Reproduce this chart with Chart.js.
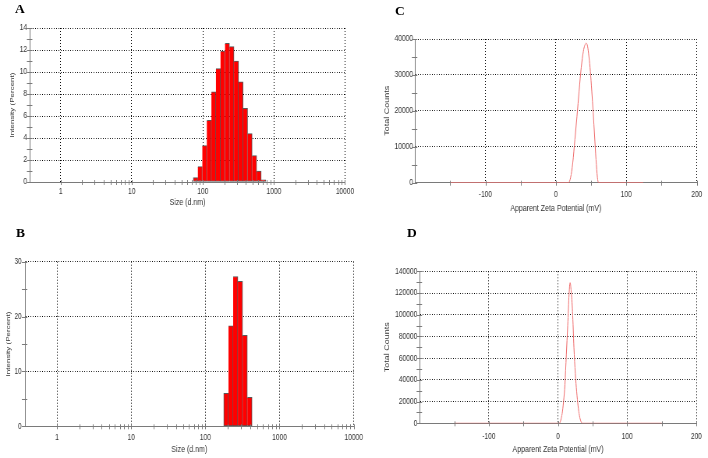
<!DOCTYPE html>
<html>
<head>
<meta charset="utf-8">
<script src="https://cdn.jsdelivr.net/npm/chart.js@4.4.0/dist/chart.umd.min.js"></script>
<style>
  html, body { margin: 0; padding: 0; background: #fff; }
  #wrap { position: relative; width: 708px; height: 458px; overflow: hidden; }
  /* the instrument export is squeezed horizontally, so draw wide and squeeze */
  #wrap canvas { position: absolute; left: 0; top: 0; transform-origin: 0 0; transform: scaleX(0.779736); }
  .lbl { position: absolute; font: bold 13.5px 'Liberation Serif', 'Times New Roman', serif; line-height: 1; color: #000; }
</style>
</head>
<body>
<div id="wrap">
  <canvas id="chartA" width="908" height="458"></canvas>
  <canvas id="chartB" width="908" height="458"></canvas>
  <canvas id="chartC" width="908" height="458"></canvas>
  <canvas id="chartD" width="908" height="458"></canvas>
  <div class="lbl" style="left:15px;top:2px">A</div>
  <div class="lbl" style="left:16px;top:226px">B</div>
  <div class="lbl" style="left:395px;top:4px">C</div>
  <div class="lbl" style="left:407px;top:226px">D</div>
</div>
<script>
// size classes (d.nm) and intensity (%)
const sizesA = [78.82, 91.28, 105.7, 122.4, 141.8, 164.2, 190.1, 220.2, 255.0, 295.3, 342.0, 396.1, 458.7, 531.2, 615.1, 712.4];
const intensityA = [0.4, 1.4, 3.3, 5.6, 8.2, 10.3, 11.9, 12.6, 12.3, 11.0, 9.1, 6.7, 4.4, 2.4, 1.0, 0.2];
const sizesB = [190.1, 220.2, 255.0, 295.3, 342.0, 396.1];
const intensityB = [6.0, 18.3, 27.3, 26.4, 16.6, 5.3];

// apparent zeta potential (mV) vs total counts
const zetaC = [-150, 18, 21, 24, 27, 30, 33, 36, 39, 41, 43, 45, 47, 49, 51, 53, 55, 57, 59, 60.5, 124];
const countsC = [0, 0, 1500, 5500, 12000, 18500, 25500, 32000, 36500, 38200, 38800, 38000, 35000, 31000, 25500, 19500, 13000, 6500, 1500, 0, 0];
const zetaD = [-150, 2, 4, 6, 8, 10, 12, 14, 16, 17.5, 19, 21, 23, 25, 27, 29, 31, 33, 35, 150];
const countsD = [0, 0, 3000, 9000, 20000, 36000, 63000, 90000, 119000, 129500, 122000, 103000, 70000, 46000, 29000, 16000, 7000, 2000, 0, 0];

// tick values
const sizeTicks = [1, 10, 100, 1000, 10000];
const zetaTicks = [-100, 0, 100, 200];
const zetaMinor = [-150, -50, 50, 150];
const ticksA = [0, 2, 4, 6, 8, 10, 12, 14];
const minorA = [1, 3, 5, 7, 9, 11, 13];
const ticksB = [0, 10, 20, 30];
const minorB = [5, 15, 25];
const ticksC = [0, 10000, 20000, 30000, 40000];
const minorC = [5000, 15000, 25000, 35000];
const ticksD = [0, 20000, 40000, 60000, 80000, 100000, 120000, 140000];
const minorD = [10000, 30000, 50000, 70000, 90000, 110000, 130000];

const sizeMinor = [];
[1, 10, 100, 1000].forEach(d => { for (let k = 2; k <= 9; k++) sizeMinor.push(d * k); });

const SQ = 708 / 908;      // horizontal squeeze (matches the css transform)
const CW = 908;            // canvas width before squeeze
const SANS = "'Liberation Sans', Arial, sans-serif";
const TEXT = '#333';
const TICK_FONT = 8.5;
const XTITLE_FONT = 9;

// small gray tick marks crossing the axes (major + minor)
const tickMarks = {
    id: 'tickMarks',
    afterDraw(chart, args, opts) {
        const { ctx, chartArea: a, scales: { x, y } } = chart;
        ctx.save();
        ctx.strokeStyle = '#7a7a7a';
        ctx.lineWidth = 1;
        ctx.beginPath();
        opts.x.forEach(v => {
            const px = Math.round(x.getPixelForValue(v)) + 0.5;
            ctx.moveTo(px, a.bottom - 2);
            ctx.lineTo(px, a.bottom + 3);
        });
        opts.y.forEach(v => {
            const py = Math.round(y.getPixelForValue(v)) + 0.5;
            ctx.moveTo(a.left - 4, py);
            ctx.lineTo(a.left + 3, py);
        });
        ctx.stroke();
        ctx.restore();
    }
};

// p.box = plot area on screen (left, right, top, bottom)
function panel(p) {
    const b = p.box;
    const xH = p.xTitleY - b.b + XTITLE_FONT * 0.6 + 0.5;
    const pad = {
        left: (b.l - p.yW) / SQ,
        right: CW - b.r / SQ,
        top: b.t,
        bottom: 458 - b.b - xH
    };
    const dataPts = p.xs.map((x, i) => ({ x: x, y: p.ys[i] }));
    const dataset = p.type === 'bar' ? {
        data: dataPts,
        backgroundColor: '#ff0000',
        borderColor: 'rgba(70,70,70,0.9)',
        borderWidth: 1,
        borderSkipped: c => c.dataIndex === 0 ? false : 'left',
        barPercentage: 1,
        categoryPercentage: 1
    } : {
        data: dataPts,
        borderColor: '#ee6a6a',
        borderWidth: 1,
        pointRadius: 0,
        fill: false,
        tension: 0.4,
        cubicInterpolationMode: 'monotone'
    };
    return {
        type: p.type,
        data: { datasets: [dataset] },
        options: {
            responsive: false,
            animation: false,
            devicePixelRatio: 1,
            layout: { padding: pad },
            plugins: {
                legend: { display: false },
                tooltip: { enabled: false },
                tickMarks: { x: p.xMarks, y: p.yMarks }
            },
            scales: {
                x: {
                    type: p.xType,
                    min: p.xMin,
                    max: p.xMax,
                    offset: false,
                    afterBuildTicks: s => { s.ticks = p.xTicks.map(v => ({ value: v })); },
                    afterFit: s => { s.height = xH; },
                    grid: { color: '#000', lineWidth: 1, drawTicks: false, offset: false },
                    border: { color: '#7a7a7a', width: 1, dash: [1, 2] },
                    ticks: {
                        autoSkip: false, maxRotation: 0,
                        padding: p.xTickY - b.b - TICK_FONT * 0.6,
                        color: TEXT, font: { family: SANS, size: TICK_FONT },
                        callback: v => String(v)
                    },
                    title: {
                        display: true, text: p.xTitle, color: TEXT,
                        font: { family: SANS, size: XTITLE_FONT },
                        padding: { top: 0, bottom: 0.5 }
                    }
                },
                y: {
                    type: 'linear',
                    min: p.yTicks[0],
                    max: p.yTicks[p.yTicks.length - 1],
                    afterBuildTicks: s => { s.ticks = p.yTicks.map(v => ({ value: v })); },
                    afterFit: s => { s.width = p.yW / SQ; },
                    grid: {
                        color: c => (c.tick && c.tick.value === 0) ? 'rgba(0,0,0,0)' : '#000',
                        lineWidth: 1, drawTicks: false
                    },
                    border: { color: '#7a7a7a', width: 1, dash: [1, 2] },
                    ticks: {
                        padding: p.yTickGap / SQ, color: TEXT,
                        font: { family: SANS, size: TICK_FONT },
                        callback: v => String(v)
                    },
                    title: {
                        display: true, text: p.yTitle, color: TEXT,
                        font: { family: SANS, size: p.yTitleSize },
                        padding: { top: p.yTitleX / SQ - pad.left - p.yTitleSize * 0.6, bottom: 0 }
                    }
                }
            }
        },
        plugins: [tickMarks]
    };
}

new Chart(document.getElementById('chartA'), panel({
    type: 'bar', xs: sizesA, ys: intensityA,
    xType: 'logarithmic', xMin: 0.37, xMax: 10000, xTicks: sizeTicks,
    xMarks: sizeTicks.concat(sizeMinor), yTicks: ticksA, yMarks: ticksA.concat(minorA),
    box: { l: 30, r: 345, t: 28, b: 182 }, yW: 30,
    xTickY: 191.7, xTitleY: 202.7, yTickGap: 3, yTitleX: 12, yTitleSize: 8,
    xTitle: 'Size (d.nm)', yTitle: 'Intensity (Percent)'
}));

new Chart(document.getElementById('chartB'), panel({
    type: 'bar', xs: sizesB, ys: intensityB,
    xType: 'logarithmic', xMin: 0.37, xMax: 10000, xTicks: sizeTicks,
    xMarks: sizeTicks.concat(sizeMinor), yTicks: ticksB, yMarks: ticksB.concat(minorB),
    box: { l: 25, r: 353.7, t: 261.7, b: 426.3 }, yW: 25,
    xTickY: 438, xTitleY: 449.7, yTickGap: 3.3, yTitleX: 8.3, yTitleSize: 8,
    xTitle: 'Size (d.nm)', yTitle: 'Intensity (Percent)'
}));

new Chart(document.getElementById('chartC'), panel({
    type: 'line', xs: zetaC, ys: countsC,
    xType: 'linear', xMin: -200, xMax: 200, xTicks: zetaTicks,
    xMarks: zetaTicks.concat(zetaMinor), yTicks: ticksC, yMarks: ticksC.concat(minorC),
    box: { l: 415, r: 696.7, t: 39, b: 182.7 }, yW: 45,
    xTickY: 195, xTitleY: 208.3, yTickGap: 2, yTitleX: 387.3, yTitleSize: 9,
    xTitle: 'Apparent Zeta Potential (mV)', yTitle: 'Total Counts'
}));

new Chart(document.getElementById('chartD'), panel({
    type: 'line', xs: zetaD, ys: countsD,
    xType: 'linear', xMin: -200, xMax: 200, xTicks: zetaTicks,
    xMarks: zetaTicks.concat(zetaMinor), yTicks: ticksD, yMarks: ticksD.concat(minorD),
    box: { l: 419.7, r: 700.7, t: 271.3, b: 423.3 }, yW: 45,
    xTickY: 436.3, xTitleY: 450, yTickGap: 2.4, yTitleX: 387.3, yTitleSize: 9,
    xTitle: 'Apparent Zeta Potential (mV)', yTitle: 'Total Counts'
}));
</script>
</body>
</html>
